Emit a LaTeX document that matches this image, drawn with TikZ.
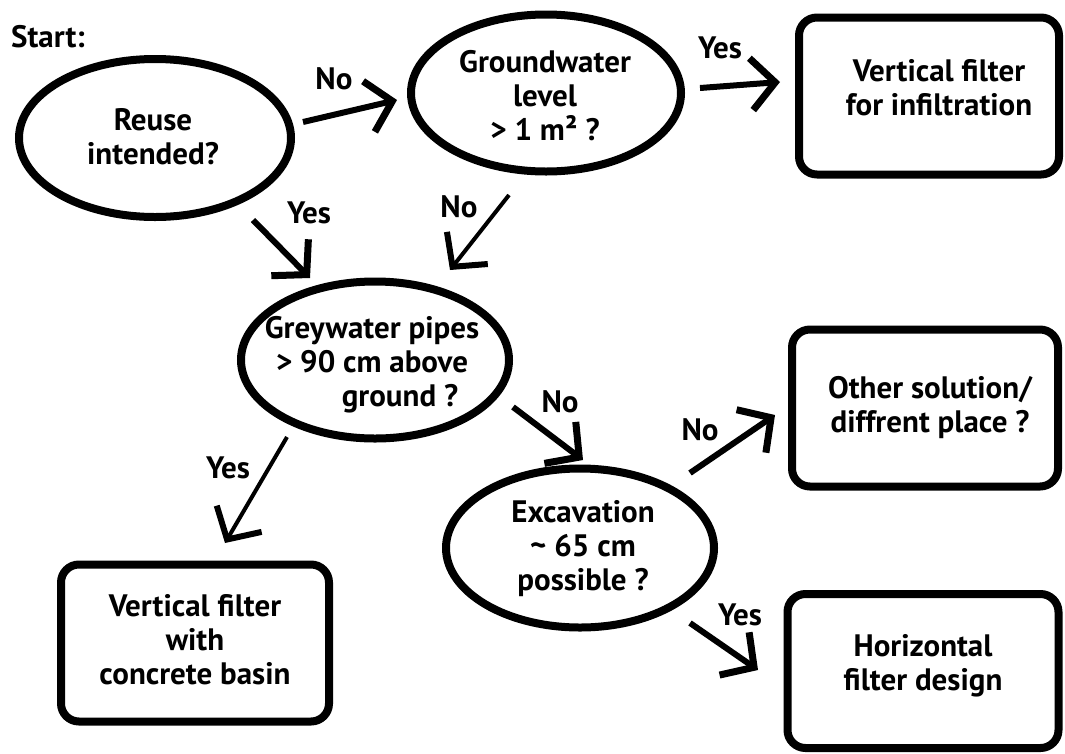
\documentclass[tikz,border=0pt]{standalone}
\usepackage{fontspec}
\setmainfont{PT Sans}
\usetikzlibrary{shapes.geometric,arrows.meta}
\newcommand{\dfont}{\fontsize{31}{34}\selectfont\bfseries}
\begin{document}
\begin{tikzpicture}[x=1pt,y=-1pt,
  decision/.style={ellipse, draw=black, line width=8pt, inner sep=0pt},
  outcome/.style={rectangle, rounded corners=18pt, draw=black, line width=8pt, inner sep=0pt},
  txt/.style={align=center, font=\dfont, inner sep=0pt},
  lbl/.style={font=\dfont, inner sep=0pt},
  arr/.style={line width=6pt, -{Straight Barb[length=24pt,width=52pt,line width=7pt]}},
  thinarr/.style={line width=4pt, -{Straight Barb[length=24pt,width=52pt,line width=6pt]}}
]
\useasboundingbox[fill=white] (0,0) rectangle (1065,753);

% start label
\node[lbl, anchor=west] (start) at (11,37) {Start:};

% decisions
\node[decision, minimum width=272pt, minimum height=158pt] (e1) at (155,138) {};
\node[txt] (e1t) at (153,137) {Reuse\\intended?};

\node[decision, minimum width=270pt, minimum height=157pt] (e2) at (546,93) {};
\node[txt] (e2t) at (545,96) {Groundwater\\level\\> 1 m² ?};

\node[decision, minimum width=268pt, minimum height=157pt] (e3) at (375,360) {};
\node[txt] (e3t) at (372,365) {Greywater pipes\\> 90 cm above\\\hspace*{56pt}ground ?};

\node[decision, minimum width=268pt, minimum height=159pt] (e4) at (580,548) {};
\node[txt] (e4t) at (583,549) {Excavation\\\textasciitilde{} 65 cm\\possible ?};

% outcomes
\node[outcome, minimum width=260pt, minimum height=157pt] (b1) at (929,96) {};
\node[txt] (b1t) at (939,88) {Vertical filter\\for infiltration};

\node[outcome, minimum width=266pt, minimum height=157pt] (b2) at (925,408) {};
\node[txt] (b2t) at (930,408) {Other solution/\\diffrent place ?};

\node[outcome, minimum width=268pt, minimum height=157pt] (b3) at (195,643) {};
\node[txt] (b3t) at (195,640) {Vertical filter\\with\\concrete basin};

\node[outcome, minimum width=271pt, minimum height=154pt] (b4) at (923,671) {};
\node[txt] (b4t) at (923,666) {Horizontal\\filter design};

% connectors
\draw[arr] ([shift={(148,-16)}]e1.center) -- ([shift={(-149,7)}]e2.center);
\draw[arr] ([shift={(154,-5)}]e2.center) -- ([shift={(-149,-14)}]b1.center);
\draw[arr] ([shift={(98,82)}]e1.center) -- ([shift={(-65,-82)}]e3.center);
\draw[thinarr] ([shift={(-37,102)}]e2.center) -- ([shift={(75,-90)}]e3.center);
\draw[arr] ([shift={(138,47)}]e3.center) -- ([shift={(3,-88)}]e4.center);
\draw[thinarr] ([shift={(-88,77)}]e3.center) -- ([shift={(30,-100)}]b3.center);
\draw[arr] ([shift={(110,-75)}]e4.center) -- ([shift={(-150,7)}]b2.center);
\draw[arr] ([shift={(110,75)}]e4.center) -- ([shift={(-165,-1)}]b4.center);

% connector labels
\node[lbl] (lno1) at (334,79) {No};
\node[lbl] (lyes1) at (720,48) {Yes};
\node[lbl] (lyes2) at (309,213) {Yes};
\node[lbl] (lno2) at (459,207) {No};
\node[lbl] (lno3) at (560,402) {No};
\node[lbl] (lyes3) at (228,468) {Yes};
\node[lbl] (lno4) at (700,430) {No};
\node[lbl] (lyes4) at (740,615) {Yes};
\end{tikzpicture}
\end{document}
